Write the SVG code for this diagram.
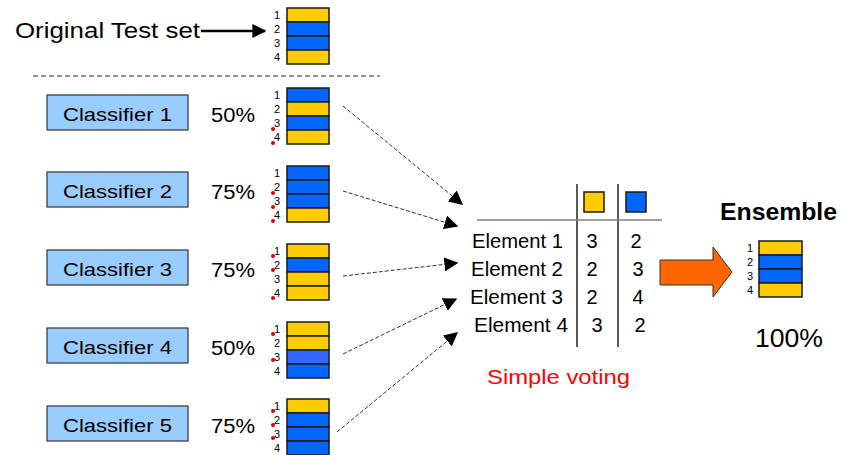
<svg xmlns="http://www.w3.org/2000/svg" width="843" height="455" viewBox="0 0 843 455">
<style>
text{font-family:"Liberation Sans","DejaVu Sans",sans-serif;fill:#000}
.big{font-size:22px}
.cls{font-size:19px}
.pct{font-size:20px}
.num{font-size:11px;text-anchor:middle}
.tbl{font-size:20px}
.y{fill:#FFCC00;stroke:#1a1a1a;stroke-width:1.5}
.b{fill:#0066FF;stroke:#1a1a1a;stroke-width:1.5}
.lb{fill:#3366FF;stroke:#1a1a1a;stroke-width:1.5}
.box{fill:#99CCFF;stroke:#333;stroke-width:1.2}
.dot{fill:#E00000}
.conn{stroke:#333;stroke-width:1;stroke-dasharray:4 2;fill:none}
.grid{stroke:#000;stroke-width:1.3}
</style>
<defs>
<marker id="ah" viewBox="0 0 10 10" refX="9" refY="5" markerWidth="14" markerHeight="14" markerUnits="userSpaceOnUse" orient="auto">
<path d="M0,0 L10,5 L0,10 z" fill="#000"/>
</marker>
<g id="digits">
<text class="num" x="277" y="20">1</text>
<text class="num" x="277" y="34">2</text>
<text class="num" x="277" y="48">3</text>
<text class="num" x="277" y="62">4</text>
</g>
</defs>

<g id="original">
<text class="big" x="15" y="38" textLength="185" lengthAdjust="spacingAndGlyphs">Original Test set</text>
<line x1="201" y1="31" x2="265" y2="31" stroke="#000" stroke-width="2.5" marker-end="url(#ah)"/>
<rect class="y" x="287" y="8" width="42" height="14"/>
<rect class="b" x="287" y="22" width="42" height="14"/>
<rect class="b" x="287" y="36" width="42" height="14"/>
<rect class="y" x="287" y="50" width="42" height="14"/>
<use href="#digits" y="-1"/>
</g>

<line x1="33" y1="76" x2="380" y2="76" stroke="#333" stroke-width="1" stroke-dasharray="5 3"/>

<g id="classifier1">
<rect class="box" x="47" y="95" width="141" height="35"/>
<text class="cls" x="63" y="121" textLength="109" lengthAdjust="spacingAndGlyphs">Classifier 1</text>
<text class="pct" x="211" y="122" textLength="44" lengthAdjust="spacingAndGlyphs">50%</text>
<rect class="b" x="287" y="88" width="42" height="14"/>
<rect class="y" x="287" y="102" width="42" height="14"/>
<rect class="b" x="287" y="116" width="42" height="14"/>
<rect class="y" x="287" y="130" width="42" height="14"/>
<use href="#digits" y="79"/>
<circle class="dot" cx="273" cy="129" r="2"/>
<circle class="dot" cx="273" cy="143" r="2"/>
</g>

<g id="classifier2">
<rect class="box" x="47" y="172" width="141" height="35"/>
<text class="cls" x="63" y="198" textLength="109" lengthAdjust="spacingAndGlyphs">Classifier 2</text>
<text class="pct" x="211" y="199" textLength="44" lengthAdjust="spacingAndGlyphs">75%</text>
<rect class="b" x="287" y="166" width="42" height="14"/>
<rect class="b" x="287" y="180" width="42" height="14"/>
<rect class="b" x="287" y="194" width="42" height="14"/>
<rect class="y" x="287" y="208" width="42" height="14"/>
<use href="#digits" y="157"/>
<circle class="dot" cx="273" cy="193" r="2"/>
<circle class="dot" cx="273" cy="207" r="2"/>
<circle class="dot" cx="273" cy="221" r="2"/>
</g>

<g id="classifier3">
<rect class="box" x="47" y="250" width="141" height="35"/>
<text class="cls" x="63" y="276" textLength="109" lengthAdjust="spacingAndGlyphs">Classifier 3</text>
<text class="pct" x="211" y="277" textLength="44" lengthAdjust="spacingAndGlyphs">75%</text>
<rect class="y" x="287" y="244" width="42" height="14"/>
<rect class="b" x="287" y="258" width="42" height="14"/>
<rect class="y" x="287" y="272" width="42" height="14"/>
<rect class="y" x="287" y="286" width="42" height="14"/>
<use href="#digits" y="235"/>
<circle class="dot" cx="273" cy="256" r="2"/>
<circle class="dot" cx="273" cy="270" r="2"/>
<circle class="dot" cx="273" cy="298" r="2"/>
</g>

<g id="classifier4">
<rect class="box" x="47" y="328" width="141" height="35"/>
<text class="cls" x="63" y="354" textLength="109" lengthAdjust="spacingAndGlyphs">Classifier 4</text>
<text class="pct" x="211" y="355" textLength="44" lengthAdjust="spacingAndGlyphs">50%</text>
<rect class="y" x="287" y="322" width="42" height="14"/>
<rect class="y" x="287" y="336" width="42" height="14"/>
<rect class="lb" x="287" y="350" width="42" height="14"/>
<rect class="b" x="287" y="364" width="42" height="14"/>
<use href="#digits" y="313"/>
<circle class="dot" cx="273" cy="334" r="2"/>
<circle class="dot" cx="273" cy="360" r="2"/>
</g>

<g id="classifier5">
<rect class="box" x="47" y="406" width="141" height="35"/>
<text class="cls" x="63" y="432" textLength="109" lengthAdjust="spacingAndGlyphs">Classifier 5</text>
<text class="pct" x="211" y="433" textLength="44" lengthAdjust="spacingAndGlyphs">75%</text>
<rect class="y" x="287" y="399" width="42" height="14"/>
<rect class="b" x="287" y="413" width="42" height="14"/>
<rect class="b" x="287" y="427" width="42" height="14"/>
<rect class="b" x="287" y="441" width="42" height="14"/>
<use href="#digits" y="390"/>
<circle class="dot" cx="273" cy="411" r="2"/>
<circle class="dot" cx="273" cy="425" r="2"/>
<circle class="dot" cx="273" cy="438" r="2"/>
</g>

<g id="connectors">
<line class="conn" x1="343" y1="106" x2="462" y2="204" marker-end="url(#ah)"/>
<line class="conn" x1="343" y1="191" x2="457" y2="226" marker-end="url(#ah)"/>
<line class="conn" x1="343" y1="276" x2="457" y2="263" marker-end="url(#ah)"/>
<line class="conn" x1="343" y1="354" x2="456" y2="299" marker-end="url(#ah)"/>
<line class="conn" x1="337" y1="432" x2="457" y2="333" marker-end="url(#ah)"/>
</g>

<g id="voting">
<line class="grid" x1="577" y1="184" x2="577" y2="347"/>
<line class="grid" x1="618" y1="184" x2="618" y2="347"/>
<line x1="477" y1="220" x2="662" y2="220" stroke="#808080" stroke-width="1.5"/>
<rect class="y" x="584" y="192" width="20" height="20" stroke-width="1"/>
<rect class="b" x="626" y="192" width="20" height="20" stroke-width="1"/>
<text class="tbl" x="472" y="248" textLength="91" lengthAdjust="spacingAndGlyphs">Element 1</text>
<text class="tbl" x="471" y="276" textLength="92" lengthAdjust="spacingAndGlyphs">Element 2</text>
<text class="tbl" x="470" y="304" textLength="93" lengthAdjust="spacingAndGlyphs">Element 3</text>
<text class="tbl" x="474" y="332" textLength="94" lengthAdjust="spacingAndGlyphs">Element 4</text>
<text class="tbl" x="592" y="248" text-anchor="middle">3</text>
<text class="tbl" x="636" y="248" text-anchor="middle">2</text>
<text class="tbl" x="592" y="276" text-anchor="middle">2</text>
<text class="tbl" x="638" y="276" text-anchor="middle">3</text>
<text class="tbl" x="592" y="304" text-anchor="middle">2</text>
<text class="tbl" x="638" y="304" text-anchor="middle">4</text>
<text class="tbl" x="597" y="332" text-anchor="middle">3</text>
<text class="tbl" x="640" y="332" text-anchor="middle">2</text>
<text x="487" y="384" textLength="143" lengthAdjust="spacingAndGlyphs" style="font-size:20px;fill:#FF0000">Simple voting</text>
</g>

<g id="bigarrow">
<path d="M660,260 L713,260 L713,247 L732,272 L713,297 L713,285 L660,285 z" fill="#FF6600" stroke="#333" stroke-width="1"/>
</g>

<g id="ensemble">
<text x="720" y="220" textLength="117" lengthAdjust="spacingAndGlyphs" style="font-size:24px;font-weight:bold">Ensemble</text>
<rect class="y" x="759" y="241" width="43" height="14"/>
<rect class="b" x="759" y="255" width="43" height="14"/>
<rect class="b" x="759" y="269" width="43" height="14"/>
<rect class="y" x="759" y="283" width="43" height="14"/>
<text class="num" x="750" y="252">1</text>
<text class="num" x="750" y="266">2</text>
<text class="num" x="750" y="280">3</text>
<text class="num" x="750" y="294">4</text>
<text x="755" y="347" textLength="68" lengthAdjust="spacingAndGlyphs" style="font-size:26px">100%</text>
</g>
</svg>
